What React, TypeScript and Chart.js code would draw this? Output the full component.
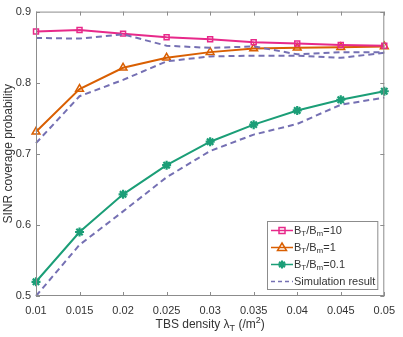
import React, { useEffect, useRef } from "react";
import { Chart, registerables } from "chart.js";

Chart.register(...registerables);

const densities = [0.01, 0.015, 0.02, 0.025, 0.03, 0.035, 0.04, 0.045, 0.05];
const ratio10 = [0.872, 0.874, 0.869, 0.864, 0.861, 0.857, 0.855, 0.853, 0.852];
const ratio1 = [0.731, 0.791, 0.821, 0.835, 0.843, 0.848, 0.849, 0.850, 0.851];
const ratio01 = [0.520, 0.590, 0.643, 0.684, 0.717, 0.741, 0.761, 0.776, 0.788];
const sim10 = [0.863, 0.862, 0.868, 0.852, 0.849, 0.851, 0.840, 0.843, 0.843];
const sim1 = [0.715, 0.781, 0.804, 0.830, 0.837, 0.838, 0.838, 0.835, 0.842];
const sim01 = [0.500, 0.572, 0.619, 0.667, 0.704, 0.727, 0.742, 0.769, 0.779];

const PINK = "#E7298A";
const ORANGE = "#D95F02";
const GREEN = "#1B9E77";
const PURPLE = "#7570B3";
const TEXT = "#333333";
const AXIS = "#8c8c8c";
const FONT = "'Liberation Sans', Arial, Helvetica, sans-serif";

type Seg = { t: string; s?: "sub" | "sup" };

function segFont(s: Seg, size: number) {
  const sz = s.s ? Math.round(size * 0.72) : size;
  return `${sz}px ${FONT}`;
}

function richWidth(ctx: CanvasRenderingContext2D, segs: Seg[], size: number) {
  let w = 0;
  for (const s of segs) {
    ctx.font = segFont(s, size);
    w += ctx.measureText(s.t).width;
  }
  return w;
}

function drawRich(ctx: CanvasRenderingContext2D, segs: Seg[], x: number, y: number, size: number) {
  let cx = x;
  ctx.textBaseline = "middle";
  ctx.textAlign = "left";
  for (const s of segs) {
    ctx.font = segFont(s, size);
    const dy = s.s === "sub" ? size * 0.3 : s.s === "sup" ? -size * 0.38 : 0;
    ctx.fillText(s.t, cx, y + dy);
    cx += ctx.measureText(s.t).width;
  }
}

const legendItems: { segs: Seg[]; color: string; marker: string; dashed?: boolean }[] = [
  { segs: [{ t: "B" }, { t: "T", s: "sub" }, { t: "/B" }, { t: "m", s: "sub" }, { t: "=10" }], color: PINK, marker: "rect" },
  { segs: [{ t: "B" }, { t: "T", s: "sub" }, { t: "/B" }, { t: "m", s: "sub" }, { t: "=1" }], color: ORANGE, marker: "triangle" },
  { segs: [{ t: "B" }, { t: "T", s: "sub" }, { t: "/B" }, { t: "m", s: "sub" }, { t: "=0.1" }], color: GREEN, marker: "star" },
  { segs: [{ t: "Simulation result" }], color: PURPLE, marker: "", dashed: true },
];

function drawMarker(ctx: CanvasRenderingContext2D, kind: string, x: number, y: number, color: string) {
  ctx.save();
  ctx.strokeStyle = color;
  ctx.fillStyle = color;
  ctx.lineWidth = 1.5;
  ctx.setLineDash([]);
  ctx.beginPath();
  if (kind === "rect") {
    ctx.rect(x - 3, y - 3, 6, 6);
    ctx.stroke();
  } else if (kind === "triangle") {
    ctx.moveTo(x, y - 4.5);
    ctx.lineTo(x + 4.5, y + 3);
    ctx.lineTo(x - 4.5, y + 3);
    ctx.closePath();
    ctx.stroke();
  } else if (kind === "star") {
    const r = 4;
    for (let i = 0; i < 4; i++) {
      const a = (i * Math.PI) / 4;
      ctx.moveTo(x + Math.cos(a) * r, y + Math.sin(a) * r);
      ctx.lineTo(x - Math.cos(a) * r, y - Math.sin(a) * r);
    }
    ctx.lineWidth = 2;
    ctx.stroke();
  }
  ctx.restore();
}

const matlabPlugin = {
  id: "matlabAxes",
  afterDatasetsDraw(chart: any) {
    const ctx: CanvasRenderingContext2D = chart.ctx;
    const { left, right, top, bottom } = chart.chartArea;
    ctx.save();
    ctx.strokeStyle = AXIS;
    ctx.lineWidth = 1;
    ctx.setLineDash([]);
    ctx.strokeRect(left + 0.5, top + 0.5, right - left - 1, bottom - top - 1);
    const tl = 4;
    ctx.beginPath();
    for (const t of chart.scales.x.ticks) {
      const px = Math.round(chart.scales.x.getPixelForValue(t.value)) + 0.5;
      ctx.moveTo(px, bottom);
      ctx.lineTo(px, bottom - tl);
      ctx.moveTo(px, top);
      ctx.lineTo(px, top + tl);
    }
    for (const t of chart.scales.y.ticks) {
      const py = Math.round(chart.scales.y.getPixelForValue(t.value)) + 0.5;
      ctx.moveTo(left, py);
      ctx.lineTo(left + tl, py);
      ctx.moveTo(right, py);
      ctx.lineTo(right - tl, py);
    }
    ctx.stroke();
    ctx.restore();
  },
  afterDraw(chart: any) {
    const ctx: CanvasRenderingContext2D = chart.ctx;
    const { left, right, top, bottom } = chart.chartArea;
    ctx.save();
    ctx.fillStyle = TEXT;
    // x title
    const xt: Seg[] = [{ t: "TBS density " }, { t: "λ" }, { t: "T", s: "sub" }, { t: " (/m" }, { t: "2", s: "sup" }, { t: ")" }];
    const xw = richWidth(ctx, xt, 12);
    drawRich(ctx, xt, (left + right) / 2 - xw / 2, 325, 12);
    // y title
    ctx.save();
    ctx.translate(9, (top + bottom) / 2);
    ctx.rotate(-Math.PI / 2);
    ctx.font = `12px ${FONT}`;
    ctx.textAlign = "center";
    ctx.textBaseline = "middle";
    ctx.fillText("SINR coverage probability", 0, 0);
    ctx.restore();

    // legend
    const size = 11;
    let maxW = 0;
    for (const it of legendItems) maxW = Math.max(maxW, richWidth(ctx, it.segs, size));
    const rowH = 17;
    const w = 27 + maxW + 3;
    const h = rowH * legendItems.length + 1;
    const bx = Math.round(right - 6 - w);
    const by = Math.round(bottom - 6 - h);
    ctx.fillStyle = "#ffffff";
    ctx.fillRect(bx, by, w, h);
    ctx.strokeStyle = AXIS;
    ctx.lineWidth = 1;
    ctx.strokeRect(bx + 0.5, by + 0.5, w - 1, h - 1);
    legendItems.forEach((it, i) => {
      const cy = by + 9.5 + i * rowH;
      ctx.save();
      ctx.strokeStyle = it.color;
      ctx.lineWidth = 1.5;
      ctx.setLineDash(it.dashed ? [4, 3] : []);
      ctx.beginPath();
      ctx.moveTo(bx + 4, cy);
      ctx.lineTo(bx + 26, cy);
      ctx.stroke();
      ctx.restore();
      if (it.marker) drawMarker(ctx, it.marker, bx + 15, cy, it.color);
      ctx.fillStyle = TEXT;
      drawRich(ctx, it.segs, bx + 27, cy, size);
    });
    ctx.restore();
  },
};

function pts(ys: number[]) {
  return densities.map((x, i) => ({ x, y: ys[i] }));
}

export default function App() {
  const ref = useRef<HTMLCanvasElement | null>(null);
  useEffect(() => {
    if (!ref.current) return;
    const solid = (label: string, ys: number[], color: string, style: string, radius: number) => ({
      label,
      data: pts(ys),
      borderColor: color,
      backgroundColor: "rgba(0,0,0,0)",
      borderWidth: 2,
      pointStyle: style,
      pointRadius: radius,
      pointBorderWidth: style === "star" ? 2.2 : 1.5,
      pointBorderColor: color,
      pointBackgroundColor: "rgba(0,0,0,0)",
      tension: 0,
      clip: false as any,
    });
    const dashed = (ys: number[]) => ({
      label: "Simulation result",
      data: pts(ys),
      borderColor: PURPLE,
      backgroundColor: "rgba(0,0,0,0)",
      borderWidth: 2,
      borderDash: [6, 4],
      pointRadius: 0,
      tension: 0,
      clip: false as any,
    });
    const chart = new Chart(ref.current, {
      type: "line",
      data: {
        datasets: [
          dashed(sim10),
          dashed(sim1),
          dashed(sim01),
          solid("BT/Bm=10", ratio10, PINK, "rect", 3.5),
          solid("BT/Bm=1", ratio1, ORANGE, "triangle", 4.5),
          solid("BT/Bm=0.1", ratio01, GREEN, "star", 4.5),
        ],
      },
      options: {
        animation: false,
        responsive: false,
        maintainAspectRatio: false,
        layout: { padding: { left: 0, right: 14, top: 6, bottom: 0 } },
        plugins: { legend: { display: false }, tooltip: { enabled: false } },
        scales: {
          x: {
            type: "linear",
            min: 0.01,
            max: 0.05,
            grid: { display: false, drawTicks: false },
            border: { display: false },
            afterFit: (s: any) => {
              s.height = 41;
            },
            ticks: {
              stepSize: 0.005,
              padding: 8,
              color: TEXT,
              font: { family: FONT, size: 11 },
              maxRotation: 0,
              autoSkip: false,
              callback: (v: any) => String(Number(Number(v).toFixed(3))),
            },
          },
          y: {
            type: "linear",
            min: 0.5,
            max: 0.9,
            grid: { display: false, drawTicks: false },
            border: { display: false },
            afterFit: (s: any) => {
              s.width = 36;
            },
            ticks: {
              stepSize: 0.1,
              padding: 5,
              color: TEXT,
              font: { family: FONT, size: 11 },
              callback: (v: any) => String(Number(Number(v).toFixed(1))),
            },
          },
        },
      },
      plugins: [matlabPlugin],
    } as any);
    return () => chart.destroy();
  }, []);
  return (
    <div style={{ position: "absolute", left: 0, top: 0, width: 403, height: 337, background: "#fff" }}>
      <canvas ref={ref} width={403} height={337} style={{ display: "block" }} />
    </div>
  );
}
